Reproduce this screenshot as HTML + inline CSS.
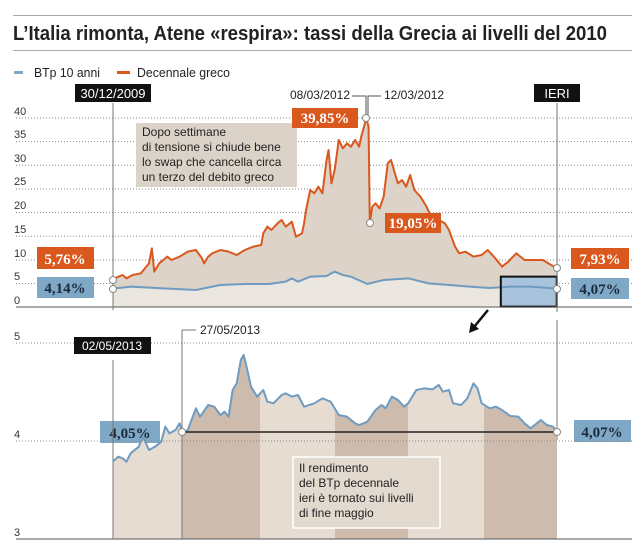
<!DOCTYPE html>
<html><head><meta charset="utf-8"><style>
body{margin:0;background:#fff}
svg{display:block;font-family:"Liberation Sans",sans-serif}
</style></head><body>
<svg width="640" height="553" viewBox="0 0 640 553">
<rect width="640" height="553" fill="#fff"/>
<line x1="13" y1="15.5" x2="632" y2="15.5" stroke="#aaa" stroke-width="1"/>
<text x="13" y="40" font-size="20" font-weight="bold" fill="#222" textLength="594" lengthAdjust="spacingAndGlyphs">L’Italia rimonta, Atene «respira»: tassi della Grecia ai livelli del 2010</text>
<line x1="13" y1="50.5" x2="632" y2="50.5" stroke="#aaa" stroke-width="1"/>
<rect x="14" y="71" width="9" height="3" fill="#7fa7c6"/>
<text x="34" y="77" font-size="13" fill="#222" textLength="66" lengthAdjust="spacingAndGlyphs">BTp 10 anni</text>
<rect x="117" y="71" width="13" height="3" fill="#d9581e"/>
<text x="137" y="77" font-size="13" fill="#222" textLength="93" lengthAdjust="spacingAndGlyphs">Decennale greco</text>
<g stroke="#888" stroke-dasharray="1,2" stroke-width="1">
<line x1="16" y1="118" x2="632" y2="118"/><line x1="16" y1="141.6" x2="632" y2="141.6"/><line x1="16" y1="165.3" x2="632" y2="165.3"/><line x1="16" y1="189" x2="632" y2="189"/><line x1="16" y1="212.6" x2="632" y2="212.6"/><line x1="16" y1="236.3" x2="632" y2="236.3"/><line x1="16" y1="260" x2="632" y2="260"/><line x1="16" y1="283.5" x2="632" y2="283.5"/>
</g>
<g font-size="11" fill="#333">
<text x="14" y="115">40</text><text x="14" y="138">35</text><text x="14" y="162">30</text><text x="14" y="185">25</text><text x="14" y="209">20</text><text x="14" y="233">15</text><text x="14" y="257">10</text><text x="14" y="280">5</text><text x="14" y="304">0</text>
</g>
<g transform="translate(0,60) scale(0.40816,0.33333)">
<path fill="#ddd3c8" d="M276,660 L290,650 300,645 310,655 325,645 345,640 365,610 372,565 378,635 390,610 410,590 420,600 440,590 460,575 480,570 495,595 500,610 510,590 520,580 540,570 560,575 580,585 600,570 620,560 640,555 645,520 655,500 665,510 680,490 690,480 700,500 715,485 725,530 740,520 745,490 750,450 760,390 770,400 780,380 790,400 800,300 805,270 812,370 820,330 830,240 840,265 850,250 860,260 870,240 880,260 885,230 892,200 897,173 903,200 906,488 912,440 920,430 930,445 940,410 950,310 958,300 965,330 975,370 985,360 995,380 1005,345 1015,390 1030,410 1045,440 1060,480 1075,480 1090,490 1100,510 1115,560 1125,580 1140,575 1160,590 1180,585 1195,570 1210,590 1230,620 1245,605 1265,580 1285,600 1310,600 1330,600 1350,615 1366,625 L1366,740 L276,740Z"/>
<path fill="#ebe6e0" d="M276,686 L320,680 400,685 480,690 540,675 600,672 660,672 700,665 715,655 730,665 760,650 800,648 820,635 840,645 860,650 900,672 940,660 1000,655 1050,670 1100,675 1150,680 1200,684 1250,680 1300,680 1366,686 L1366,740 L276,740Z"/>
<rect x="1227" y="650" width="137" height="90" fill="#a9c3dc"/>
<path fill="none" stroke="#d9581e" stroke-width="2" vector-effect="non-scaling-stroke" stroke-linejoin="round" d="M276,660 L290,650 300,645 310,655 325,645 345,640 365,610 372,565 378,635 390,610 410,590 420,600 440,590 460,575 480,570 495,595 500,610 510,590 520,580 540,570 560,575 580,585 600,570 620,560 640,555 645,520 655,500 665,510 680,490 690,480 700,500 715,485 725,530 740,520 745,490 750,450 760,390 770,400 780,380 790,400 800,300 805,270 812,370 820,330 830,240 840,265 850,250 860,260 870,240 880,260 885,230 892,200 897,173 903,200 906,488 912,440 920,430 930,445 940,410 950,310 958,300 965,330 975,370 985,360 995,380 1005,345 1015,390 1030,410 1045,440 1060,480 1075,480 1090,490 1100,510 1115,560 1125,580 1140,575 1160,590 1180,585 1195,570 1210,590 1230,620 1245,605 1265,580 1285,600 1310,600 1330,600 1350,615 1366,625"/>
<path fill="none" stroke="#6f9bc0" stroke-width="2" vector-effect="non-scaling-stroke" d="M276,686 L320,680 400,685 480,690 540,675 600,672 660,672 700,665 715,655 730,665 760,650 800,648 820,635 840,645 860,650 900,672 940,660 1000,655 1050,670 1100,675 1150,680 1200,684 1250,680 1300,680 1366,686"/>
<rect x="1227" y="650" width="137" height="90" fill="none" stroke="#111" stroke-width="2" vector-effect="non-scaling-stroke"/>
</g>
<line x1="16" y1="307" x2="632" y2="307" stroke="#555" stroke-width="1"/>
<line x1="113" y1="103" x2="113" y2="310" stroke="#777" stroke-width="1"/>
<line x1="557" y1="103" x2="557" y2="312" stroke="#777" stroke-width="1"/>
<line x1="557" y1="320" x2="557" y2="440" stroke="#777" stroke-width="1"/>
<rect x="75" y="84" width="76" height="18" fill="#111"/>
<text x="113" y="98" font-size="13" fill="#fff" text-anchor="middle">30/12/2009</text>
<rect x="534" y="84" width="46" height="18" fill="#111"/>
<text x="557" y="98" font-size="13" fill="#fff" text-anchor="middle">IERI</text>
<text x="350" y="99" font-size="12" fill="#222" text-anchor="end">08/03/2012</text>
<path d="M352,96 H366 V118 M368,118 V96 H381" fill="none" stroke="#555"/>
<text x="384" y="99" font-size="12" fill="#222">12/03/2012</text>
<rect x="136" y="123" width="161" height="64" fill="#dcd3c8"/>
<g font-size="12" fill="#222"><text x="142" y="136">Dopo settimane</text><text x="142" y="151">di tensione si chiude bene</text><text x="142" y="166">lo swap che cancella circa</text><text x="142" y="181">un terzo del debito greco</text></g>
<g font-family="Liberation Serif,serif" font-weight="bold" font-size="15" fill="#fff">
<rect x="292" y="108" width="66" height="20" fill="#d9581e"/><text x="325" y="123" text-anchor="middle">39,85%</text>
<rect x="385" y="213" width="56" height="20" fill="#d9581e"/><text x="413" y="228" text-anchor="middle">19,05%</text>
<rect x="37" y="247" width="57" height="22" fill="#d9581e"/><text x="65" y="264" text-anchor="middle">5,76%</text>
<rect x="37" y="277" width="57" height="21" fill="#7fa7c6"/><text x="65" y="293" text-anchor="middle" fill="#1a2a3a">4,14%</text>
<rect x="571" y="248" width="58" height="21" fill="#d9581e"/><text x="600" y="264" text-anchor="middle">7,93%</text>
<rect x="571" y="278" width="58" height="21" fill="#7fa7c6"/><text x="600" y="294" text-anchor="middle" fill="#1a2a3a">4,07%</text>
<rect x="100" y="421" width="60" height="22" fill="#7fa7c6"/><text x="130" y="438" text-anchor="middle" fill="#1a2a3a">4,05%</text>
<rect x="574" y="420" width="57" height="22" fill="#7fa7c6"/><text x="602" y="437" text-anchor="middle" fill="#1a2a3a">4,07%</text>
</g>
<g fill="#fff" stroke="#888"><circle cx="366" cy="118" r="3.5"/><circle cx="370" cy="223" r="3.5"/><circle cx="113" cy="280" r="3.5"/><circle cx="113" cy="289" r="3.5"/><circle cx="557" cy="268" r="3.5"/><circle cx="557" cy="289" r="3.5"/></g>
<line x1="488" y1="310" x2="474" y2="327" stroke="#111" stroke-width="2.5"/>
<path d="M469,333 L471,322 L479,329Z" fill="#111"/>
<defs><clipPath id="cb"><path transform="translate(0,310) scale(0.40816,0.33333)" d="M276,455 L290,440 300,445 310,455 320,430 340,410 350,380 365,420 380,410 395,395 405,350 415,370 430,360 440,340 447,368 460,360 480,295 490,320 510,285 525,290 540,315 550,305 560,320 570,240 580,220 590,150 597,135 605,175 615,230 630,260 645,240 655,275 670,280 690,255 700,250 715,260 730,255 745,290 770,280 790,265 800,270 810,275 830,315 850,320 870,340 880,345 900,335 920,300 935,285 945,295 960,260 975,270 990,290 1000,280 1020,240 1040,235 1060,238 1075,225 1085,245 1100,240 1110,280 1130,285 1145,265 1160,220 1170,235 1180,280 1200,295 1215,290 1230,300 1250,318 1270,320 1285,340 1300,355 1310,345 1325,330 1340,345 1355,350 1366,367 L1366,688 L276,688Z"/></clipPath></defs>
<g clip-path="url(#cb)">
<rect x="113" y="320" width="444" height="220" fill="#e6dcd2"/>
<rect x="182" y="320" width="78" height="220" fill="#cdbcae"/>
<rect x="335" y="320" width="73" height="220" fill="#cdbcae"/>
<rect x="484" y="320" width="73" height="220" fill="#cdbcae"/>
</g>
<g stroke="#888" stroke-dasharray="1,2"><line x1="16" y1="343" x2="632" y2="343"/><line x1="16" y1="441" x2="632" y2="441"/></g>
<line x1="16" y1="539" x2="632" y2="539" stroke="#555"/>
<line x1="113" y1="360" x2="113" y2="539" stroke="#777"/>
<g font-size="11" fill="#333"><text x="14" y="340">5</text><text x="14" y="438">4</text><text x="14" y="536">3</text></g>
<path fill="none" stroke="#6f9bc0" stroke-width="2" vector-effect="non-scaling-stroke" stroke-linejoin="round" transform="translate(0,310) scale(0.40816,0.33333)" d="M276,455 L290,440 300,445 310,455 320,430 340,410 350,380 365,420 380,410 395,395 405,350 415,370 430,360 440,340 447,368 460,360 480,295 490,320 510,285 525,290 540,315 550,305 560,320 570,240 580,220 590,150 597,135 605,175 615,230 630,260 645,240 655,275 670,280 690,255 700,250 715,260 730,255 745,290 770,280 790,265 800,270 810,275 830,315 850,320 870,340 880,345 900,335 920,300 935,285 945,295 960,260 975,270 990,290 1000,280 1020,240 1040,235 1060,238 1075,225 1085,245 1100,240 1110,280 1130,285 1145,265 1160,220 1170,235 1180,280 1200,295 1215,290 1230,300 1250,318 1270,320 1285,340 1300,355 1310,345 1325,330 1340,345 1355,350 1366,367"/>
<line x1="182" y1="330" x2="182" y2="539" stroke="#777"/>
<line x1="182" y1="330" x2="196" y2="330" stroke="#777"/>
<text x="200" y="334" font-size="12" fill="#222">27/05/2013</text>
<rect x="74" y="337" width="77" height="17" fill="#111"/>
<text x="112" y="350" font-size="12" fill="#fff" text-anchor="middle">02/05/2013</text>
<line x1="182" y1="432" x2="557" y2="432" stroke="#222" stroke-width="1.5"/>
<g fill="#fff" stroke="#888"><circle cx="182" cy="432" r="3.5"/><circle cx="557" cy="432" r="3.5"/></g>
<rect x="293" y="457" width="147" height="71" fill="#e2d9cf" stroke="#fff" stroke-width="1.5"/>
<g font-size="12" fill="#222"><text x="299" y="472">Il rendimento</text><text x="299" y="487">del BTp decennale</text><text x="299" y="502">ieri è tornato sui livelli</text><text x="299" y="517">di fine maggio</text></g>
</svg>
</body></html>
